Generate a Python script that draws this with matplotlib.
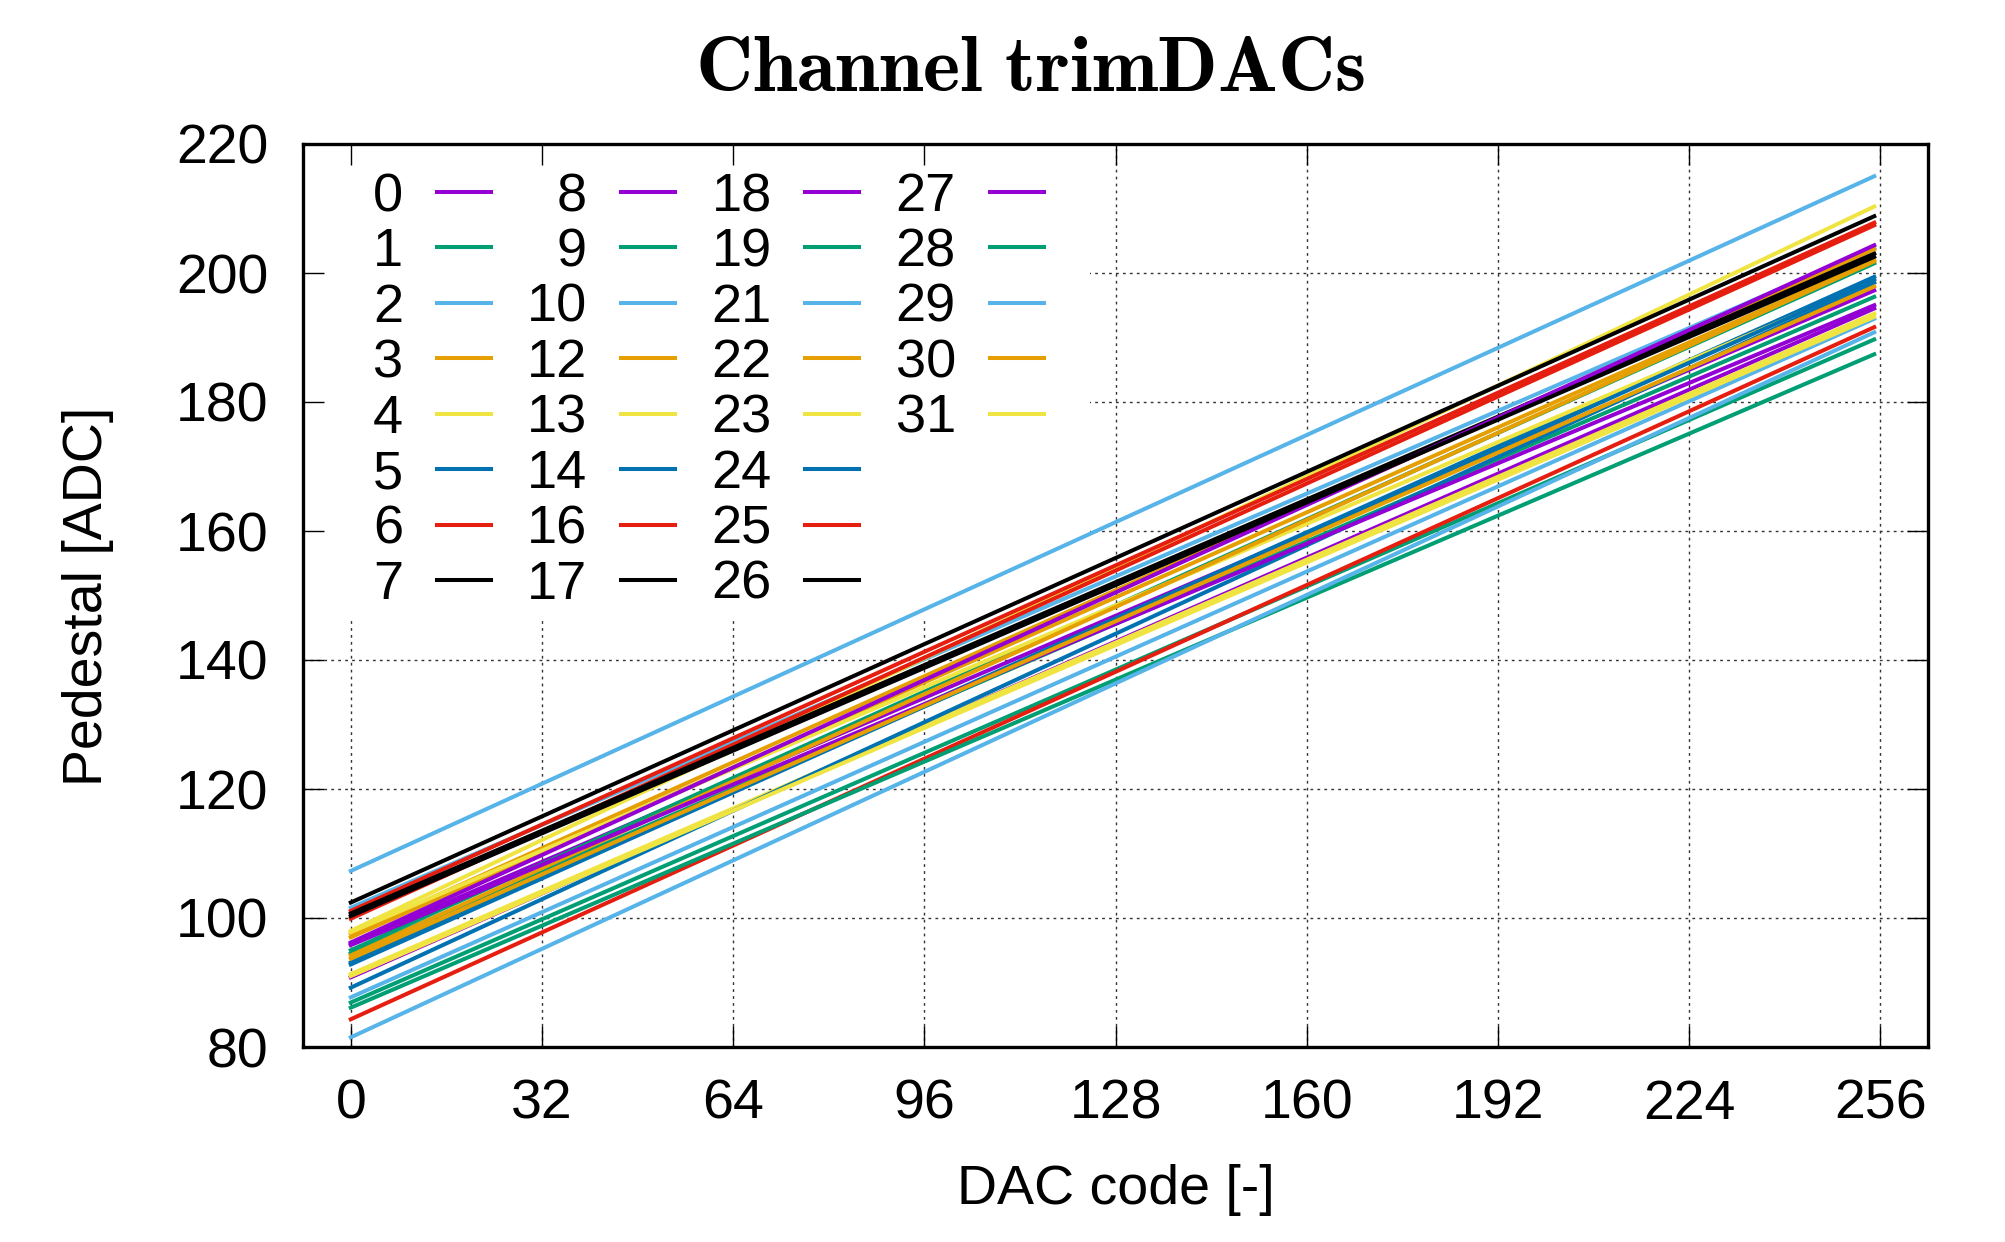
import matplotlib
matplotlib.use('agg')
import matplotlib.pyplot as plt
from matplotlib.lines import Line2D
from matplotlib.patches import Rectangle

plt.rcParams['font.family'] = ['Liberation Sans', 'DejaVu Sans']

# channel list as in the legend (11, 15, 20 missing)
channels = [0, 1, 2, 3, 4, 5, 6, 7, 8, 9, 10, 12, 13, 14, 16, 17,
            18, 19, 21, 22, 23, 24, 25, 26, 27, 28, 29, 30, 31]
dac_codes = [0, 255]
# pedestal read at DAC code 0 and 255 for each channel
ped_start = [96.0, 95.0, 101.6, 97.5, 98.0, 93.1, 101.1, 102.4,
             90.8, 94.5, 107.3, 97.0, 97.8, 92.8, 99.9, 100.7,
             96.2, 86.9, 87.7, 94.2, 91.3, 89.2, 84.3, 100.3,
             95.8, 86.1, 81.5, 93.7, 91.0]
ped_end = [197.3, 201.5, 203.9, 203.7, 210.3, 199.4, 207.8, 208.8,
           194.5, 196.3, 215.0, 202.0, 198.7, 199.0, 207.4, 203.0,
           204.3, 189.7, 192.9, 201.8, 193.7, 198.5, 191.6, 202.5,
           195.0, 187.4, 190.8, 197.9, 193.2]

xticks = [0, 32, 64, 96, 128, 160, 192, 224, 256]
yticks = [80, 100, 120, 140, 160, 180, 200, 220]

palette = ['#9400d3', '#009e73', '#56b4e9', '#e69f00',
           '#f0e442', '#0072b2', '#e51e10', '#000000']

W, H = 2005, 1242
fig = plt.figure(figsize=(W / 100, H / 100), dpi=100)
ax = fig.add_axes([303 / W, 1 - 1047 / H, (1928 - 303) / W, (1047 - 144) / H])

handles = []
labels = []
for i, ch in enumerate(channels):
    ln, = ax.plot(dac_codes, [ped_start[i], ped_end[i]], color=palette[i % 8],
                  lw=2.9, zorder=2, solid_joinstyle='round')
    handles.append(ln)
    lab = str(ch)
    if i >= 8 and len(lab) == 1:
        lab = '  ' + lab
    labels.append(lab)
# blanks so the last column is short like gnuplot's key
for k in range(3):
    handles.append(Line2D([], [], color='none'))
    labels.append('')

ax.set_xlim(-8, 264)
ax.set_ylim(80, 220)
ax.set_xticks(xticks)
ax.set_yticks(yticks)

# dotted grid behind everything
ax.vlines(xticks, 80, 220, colors='#333333', lw=1.0, linestyles=(0, (2, 3)), zorder=0.5)
ax.hlines(yticks, -8, 264, colors='#333333', lw=1.0, linestyles=(0, (2, 3)), zorder=0.5)

# white key box hides the grid
ax.add_patch(Rectangle((0, (1047 - 617) / 903), (1090 - 303) / 1625, 1,
                       transform=ax.transAxes, facecolor='white',
                       edgecolor='none', zorder=1))

for s in ax.spines.values():
    s.set_linewidth(2.4)
ax.tick_params(direction='in', top=True, right=True, length=15, width=1.0,
               labelsize=40, pad=25)
ax.tick_params(axis='x', pad=23)

ax.set_xlabel('DAC code [-]', fontsize=40)
ax.set_ylabel('Pedestal [ADC]', fontsize=40)
ax.xaxis.set_label_coords(0.5, (1047 - 1190) / 903)
ax.xaxis.label.set_va('center')
ax.yaxis.set_label_coords((88 - 303) / 1625, (1047 - 596) / 903)
ax.yaxis.label.set_va('center')

leg = ax.legend(handles, labels, ncols=4, loc='upper left',
                bbox_to_anchor=(70 / 1625, 1 - 28 / 903), frameon=False,
                markerfirst=False, fontsize=39, handlelength=1.0,
                handletextpad=0.62, columnspacing=0.67, labelspacing=0.1,
                borderpad=0, borderaxespad=0)
leg.set_zorder(3)

fig.text(1030 / W, 1 - 91 / H, r'$\mathbf{Channel\ trimDACs}$', ha='center',
         va='baseline', fontsize=57, math_fontfamily='cm')

fig.savefig('out.png', dpi=100)
